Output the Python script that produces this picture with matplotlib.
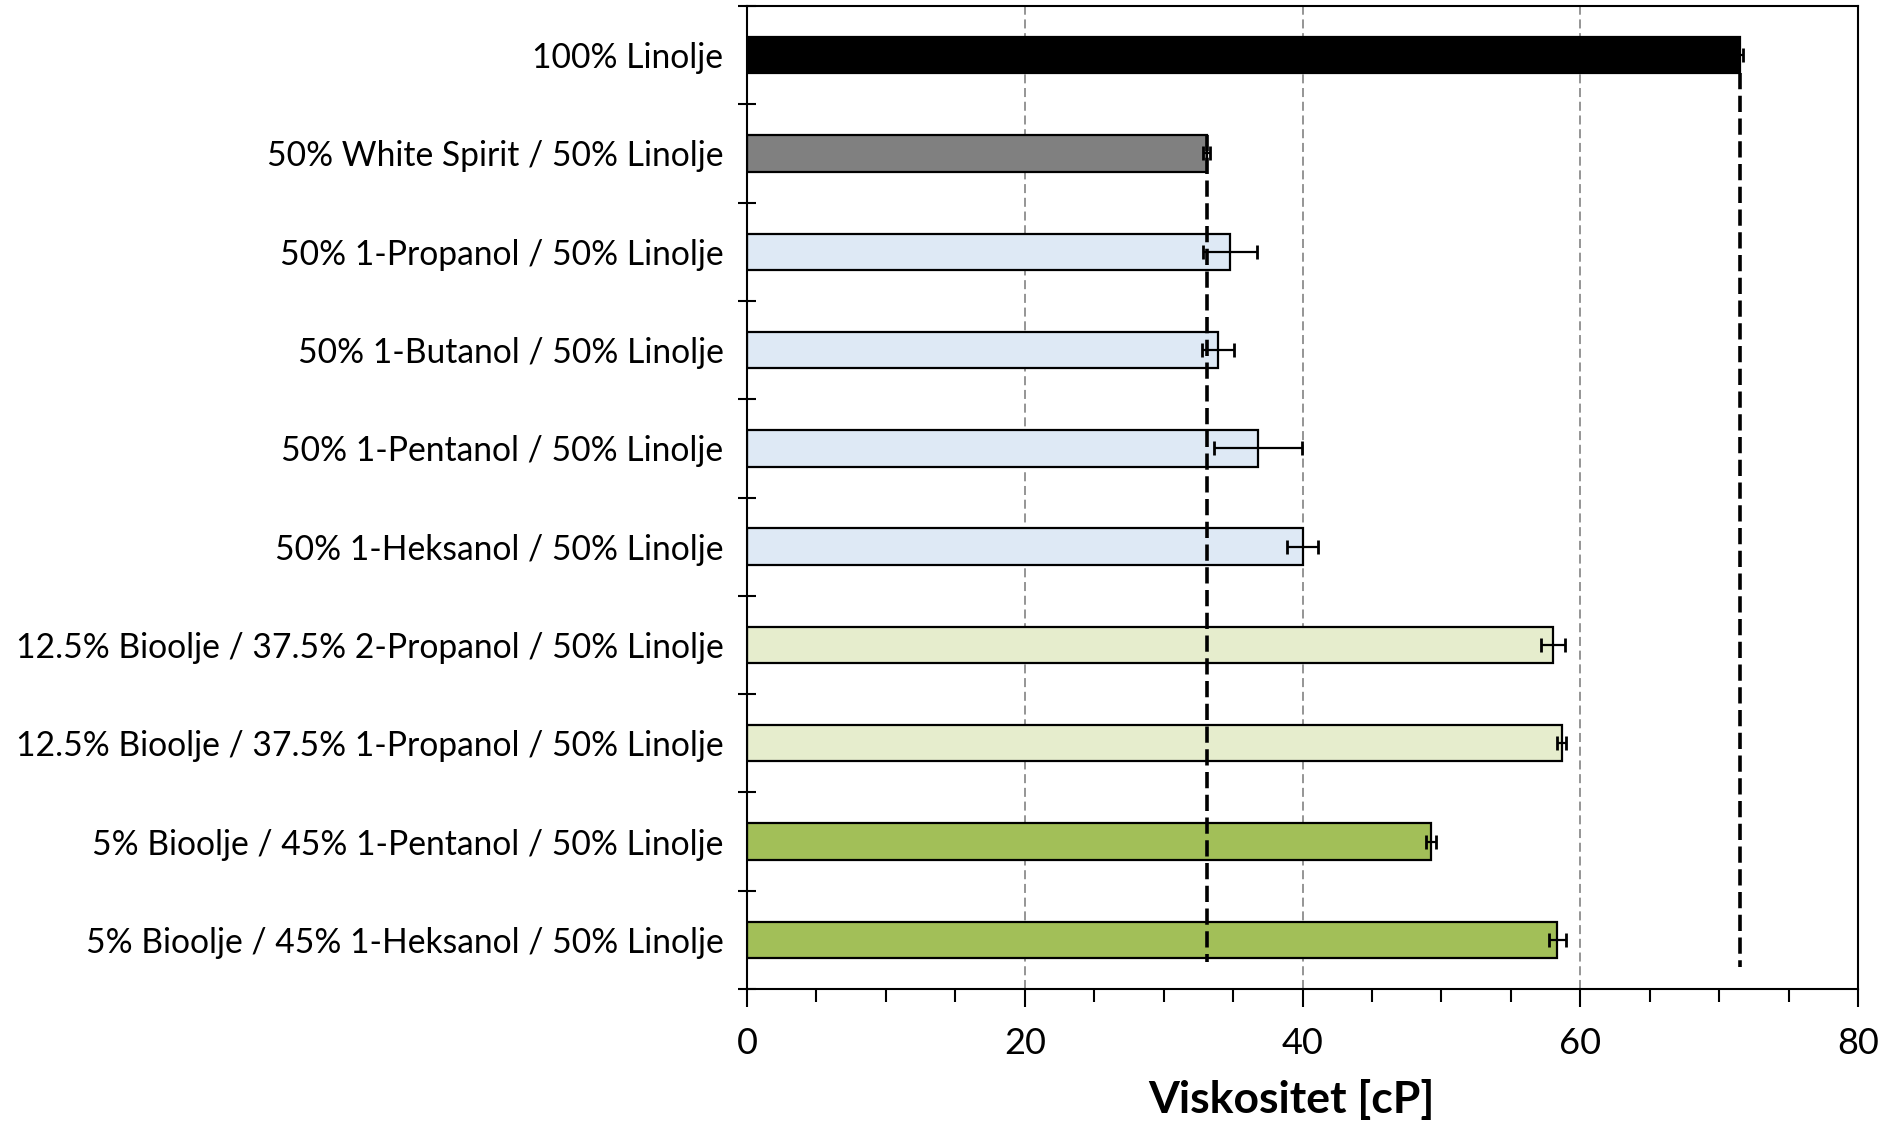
import matplotlib
matplotlib.use("Agg")
import matplotlib.pyplot as plt
from matplotlib.ticker import MultipleLocator, FixedLocator
import numpy as np

plt.rcParams['font.family'] = ['Lato', 'DejaVu Sans']

# Blends, top to bottom
labels = [
    "100% Linolje",
    "50% White Spirit / 50% Linolje",
    "50% 1-Propanol / 50% Linolje",
    "50% 1-Butanol / 50% Linolje",
    "50% 1-Pentanol / 50% Linolje",
    "50% 1-Heksanol / 50% Linolje",
    "12.5% Bioolje / 37.5% 2-Propanol / 50% Linolje",
    "12.5% Bioolje / 37.5% 1-Propanol / 50% Linolje",
    "5% Bioolje / 45% 1-Pentanol / 50% Linolje",
    "5% Bioolje / 45% 1-Heksanol / 50% Linolje",
]
viscosity = [71.5, 33.1, 34.8, 33.9, 36.8, 40.0, 58.05, 58.65, 49.25, 58.35]
viscosity_err = [0.2, 0.25, 1.95, 1.15, 3.15, 1.15, 0.87, 0.3, 0.35, 0.6]
bar_colors = ["#000000", "#808080",
              "#DEE9F5", "#DEE9F5", "#DEE9F5", "#DEE9F5",
              "#E6EDCD", "#E6EDCD",
              "#A2BF58", "#A2BF58"]

# Reference levels: pure linseed oil and the white-spirit blend
ref_linolje = viscosity[0]
ref_white_spirit = viscosity[1]

fig = plt.figure(figsize=(18.98, 11.22), dpi=100)
ax = fig.add_axes([747 / 1898, 1 - 989 / 1122, (1858 - 747) / 1898, (989 - 6) / 1122])

y = np.arange(len(labels))
bar_h = 0.37

# vertical dashed grid at major x ticks
for gx in (20, 40, 60):
    ax.axvline(gx, color="#8c8c8c", linestyle=(0, (5, 2.6)), linewidth=1.3, zorder=0)

ax.barh(y, viscosity, height=bar_h, color=bar_colors, edgecolor="black",
        linewidth=1.6, zorder=2)
ax.errorbar(viscosity, y, xerr=viscosity_err, fmt="none", ecolor="black",
            elinewidth=1.6, capsize=5, capthick=2.0, zorder=3)

# reference lines drawn over the bars
ax.vlines(ref_linolje, y[0] + bar_h / 2, 9.28, colors="black",
          linestyles=(0, (4.5, 1.8)), linewidth=2.6, zorder=4)
ax.vlines(ref_white_spirit, y[1] - bar_h / 2, 9.23, colors="black",
          linestyles=(0, (4.5, 1.8)), linewidth=2.6, zorder=4)

ax.set_xlim(0, 80)
ax.set_ylim(9.5, -0.5)

# y axis: labels at bar centres, tick marks on category boundaries
ax.yaxis.set_major_locator(FixedLocator(y))
ax.set_yticklabels(labels, fontsize=24.2)
ax.yaxis.set_minor_locator(FixedLocator(np.arange(-0.5, 10, 1.0)))
ax.tick_params(axis="y", which="major", length=0, pad=17)
ax.tick_params(axis="y", which="minor", direction="inout", length=13, width=1.5)

# x axis
ax.xaxis.set_major_locator(MultipleLocator(20))
ax.xaxis.set_minor_locator(MultipleLocator(5))
ax.tick_params(axis="x", which="major", direction="out", length=13, width=1.5,
               labelsize=26, pad=14)
ax.tick_params(axis="x", which="minor", direction="out", length=9.5, width=1.5)
ax.set_xlabel("Viskositet [cP]", fontsize=32, fontweight="bold")
ax.xaxis.set_label_coords(0.49, -0.092)

for sp in ax.spines.values():
    sp.set_linewidth(1.5)
    sp.set_color("black")

fig.savefig("out.png", dpi=100)
